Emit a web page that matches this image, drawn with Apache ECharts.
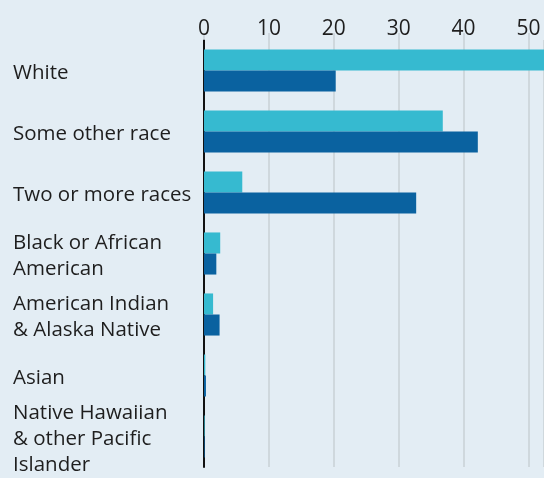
<!DOCTYPE html>
<html><head><meta charset="utf-8">
<script src="https://cdn.jsdelivr.net/npm/echarts@6/dist/echarts.min.js"></script>
<style>html,body{margin:0;padding:0;background:#e3edf4;}#c{width:544px;height:478px;}</style>
</head><body><div id="c"></div>
<script>
const categories = ["White","Some other race","Two or more races","Black or African\nAmerican","American Indian\n& Alaska Native","Asian","Native Hawaiian\n& other Pacific\nIslander"];
const seriesLight = [58, 36.8, 5.9, 2.5, 1.4, 0.2, 0.1];
const seriesDark = [20.3, 42.2, 32.7, 1.9, 2.4, 0.3, 0.1];
const tickValues = [0, 10, 20, 30, 40, 50];
const FONT = "'Open Sans', 'Noto Sans', sans-serif";
const chart = echarts.init(document.getElementById('c'));
chart.setOption({
  backgroundColor: '#e3edf4',
  animation: false,
  grid: {left: 204, right: 0, top: 40, bottom: 11, containLabel: false},
  xAxis: {
    type: 'value', position: 'top', min: 0, max: 52.4, interval: 10,
    axisLine: {show: false},
    axisTick: {show: true, length: 7, lineStyle: {color: '#c8d0d6', width: 1.5}},
    splitLine: {show: true, lineStyle: {color: '#c8d0d6', width: 1.5}},
    axisLabel: {fontFamily: FONT, fontSize: 21, color: '#1e1e1e', margin: 0,
      showMaxLabel: false,
      formatter: v => tickValues.indexOf(v) >= 0 ? String(v) : ''}
  },
  yAxis: {
    type: 'category', data: categories, inverse: true,
    axisLine: {show: true, lineStyle: {color: '#111', width: 2}},
    axisTick: {show: false},
    axisLabel: {fontFamily: FONT, fontSize: 20.5, color: '#1e1e1e', align: 'left', margin: 191,
      formatter: v => '{a|' + v.split('\n').join('}\n{a|') + '}',
      rich: {a: {fontFamily: FONT, fontSize: 20.5, color: '#1e1e1e', lineHeight: 26, padding: [5, 0, 0, 0]}}}
  },
  series: [
    {type: 'bar', data: seriesLight, barGap: '0%', barCategoryGap: '31%', itemStyle: {color: '#36bad0'}, z: 1},
    {type: 'bar', data: seriesDark, barGap: '0%', barCategoryGap: '31%', itemStyle: {color: '#0a62a0'}, z: 1}
  ]
});
</script></body></html>
